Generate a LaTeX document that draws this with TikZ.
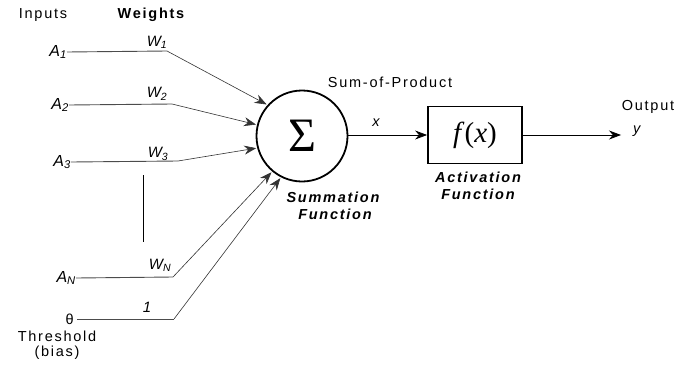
\documentclass[tikz,border=0pt]{standalone}
\usepackage{fontspec}
\setmainfont[LetterSpace=12]{Liberation Sans}
\newfontfamily\timesfont{Liberation Serif}
\usetikzlibrary{arrows.meta}
\begin{document}
\begin{tikzpicture}[x=1pt,y=-1pt,>={Stealth[length=12pt,width=9pt]},
  every node/.style={font=\fontsize{14.5}{16}\selectfont,inner sep=1pt},
  wire/.style={draw=black!70,line width=0.9pt},
  link/.style={draw=black!80,line width=0.6pt,shorten >=1pt},
  inlab/.style={anchor=east,inner sep=0pt,font=\fontsize{16}{18}\selectfont\itshape},
  wlab/.style={font=\fontsize{15}{18}\selectfont\itshape},
  caption/.style={font=\fontsize{14.5}{16}\selectfont\bfseries\itshape}]
\useasboundingbox (0,0) rectangle (679,364);

\node (inputs) at (43,15) {Inputs};
\node[font=\fontsize{14.5}{16}\selectfont\bfseries] (weights) at (151,15) {Weights};

\node[inlab] (in1) at (67,52) {A\textsubscript{1}};
\node[inlab] (in2) at (69,105) {A\textsubscript{2}};
\node[inlab] (in3) at (71,162) {A\textsubscript{3}};
\node[inlab] (inN) at (76,278) {A\textsubscript{N}};
\node[anchor=east,inner sep=0pt] (bias) at (74,319) {θ};

\coordinate (w1) at (167,51);
\coordinate (w2) at (172,104);
\coordinate (w3) at (178,161);
\coordinate (wN) at (173,277);
\coordinate (wB) at (174,319);

\node[wlab] (lw1) at (157,42) {W\textsubscript{1}};
\node[wlab] (lw2) at (157,94) {W\textsubscript{2}};
\node[wlab] (lw3) at (158,154) {W\textsubscript{3}};
\node[wlab] (lwN) at (160,265) {W\textsubscript{N}};
\node[wlab] (lwB) at (147,307) {1};

\node (thr) at (57,336) {Threshold};
\node (thrb) at (57,353) {(bias)};

\node[circle,draw,line width=1.8pt,minimum size=91pt,inner sep=0pt] (sum) at (302,136)
  {\timesfont\fontsize{48}{48}\selectfont Σ};
\node[draw,line width=1.8pt,minimum width=94pt,minimum height=57pt,inner sep=0pt] (act) at (475,135)
  {\timesfont\fontsize{29}{29}\selectfont\textit{f}(\textit{x})};
\coordinate (yend) at (621,135);

\draw[wire] (in1.east) -- (w1);
\draw[wire] (in2.east) -- (w2);
\draw[wire] (in3.east) -- (w3);
\draw[wire] (inN.east) -- (wN);
\draw[wire] ([xshift=3pt]bias.east) -- (wB);
\draw[line width=0.9pt] (143,175) -- (143,242);

\draw[->,link] (w1) -- (sum.138);
\draw[->,link] (w2) -- (sum.166);
\draw[->,link] (w3) -- (sum.195);
\draw[->,link] (wN) -- (sum.230);
\draw[->,link] (wB) -- (sum.243);

\draw[->,line width=0.8pt] (sum.east |- act.west) -- (act.west);
\draw[->,line width=0.8pt] (act) -- (yend);

\node (sop) at (390,82) {Sum-of-Product};
\node (xlab) at (377,123) {\textit{x}};
\node[caption] (sumf1) at (333,197) {Summation};
\node[caption] (sumf2) at (335,214) {Function};
\node[caption] (actf1) at (478,177) {Activation};
\node[caption] (actf2) at (478,194) {Function};
\node (outlab) at (648,107) {Output};
\node (ylab) at (638,131) {\textit{y}};
\end{tikzpicture}
\end{document}
